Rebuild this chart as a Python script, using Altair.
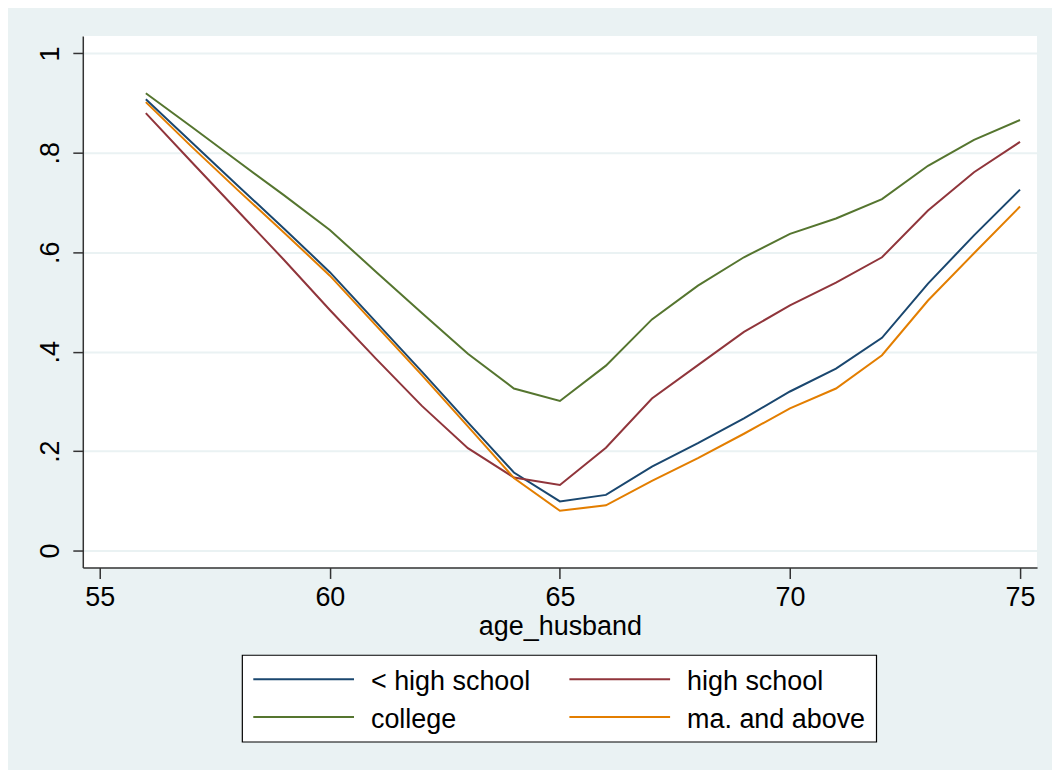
import altair as alt
import pandas as pd

ages = list(range(56, 76))
categories = ["< high school", "high school", "college", "ma. and above"]
less_hs = [0.908, 0.821, 0.734, 0.648, 0.560, 0.460, 0.360, 0.258, 0.157, 0.099,
           0.112, 0.169, 0.216, 0.266, 0.320, 0.366, 0.428, 0.537, 0.634, 0.726]
high_school = [0.880, 0.781, 0.683, 0.585, 0.484, 0.386, 0.291, 0.206, 0.147, 0.132,
               0.207, 0.306, 0.373, 0.440, 0.493, 0.539, 0.590, 0.684, 0.761, 0.822]
college = [0.920, 0.852, 0.783, 0.715, 0.645, 0.561, 0.478, 0.396, 0.326, 0.301,
           0.372, 0.465, 0.533, 0.590, 0.637, 0.668, 0.707, 0.774, 0.826, 0.866]
ma_above = [0.902, 0.812, 0.725, 0.640, 0.553, 0.453, 0.353, 0.250, 0.146, 0.080,
            0.091, 0.140, 0.186, 0.235, 0.286, 0.326, 0.393, 0.503, 0.598, 0.692]
colors = ["#1A476F", "#90353B", "#55752F", "#E37E00"]
x_ticks = [55, 60, 65, 70, 75]
y_ticks = [0, 0.2, 0.4, 0.6, 0.8, 1.0]

series = [less_hs, high_school, college, ma_above]
rows = []
for cat, vals in zip(categories, series):
    for a, v in zip(ages, vals):
        rows.append({"age_husband": a, "value": v, "group": cat})
df = pd.DataFrame(rows)

FONT = "Liberation Sans"
FS = 27
W, H = 957, 533

color_scale = alt.Scale(domain=categories, range=colors)

lines = alt.Chart(df).mark_line(strokeWidth=2, clip=False).encode(
    x=alt.X("age_husband:Q",
            scale=alt.Scale(domain=[54.63, 75.37], nice=False, zero=False),
            axis=alt.Axis(values=x_ticks, title="age_husband", grid=False,
                          labelFont=FONT, labelFontSize=FS, labelColor="#000",
                          titleFont=FONT, titleFontSize=FS, titleColor="#000",
                          titleFontWeight="normal", titleY=67,
                          titleBaseline="alphabetic",
                          tickSize=11, tickColor="#333", tickWidth=1.5,
                          domainColor="#333", domainWidth=1.5, labelPadding=6,
                          labelFlush=False)),
    y=alt.Y("value:Q",
            scale=alt.Scale(domain=[-0.034, 1.035], nice=False, zero=False),
            axis=alt.Axis(values=y_ticks, title=None, grid=True,
                          gridColor="#EAF2F3", gridWidth=2,
                          labelExpr="datum.value == 0 ? '0' : datum.value == 1 ? '1' : replace(format(datum.value, '.1f'), '0.', '.')",
                          labelAngle=-90, labelAlign="center", labelBaseline="bottom",
                          labelFont=FONT, labelFontSize=FS, labelColor="#000",
                          tickSize=10, tickColor="#333", tickWidth=1.5,
                          domainColor="#333", domainWidth=1.5, labelPadding=8,
                          labelFlush=False)),
    color=alt.Color("group:N", scale=color_scale, legend=None),
    detail="group:N",
)

# legend layout (pixels relative to plot area)
leg_cols = [0, 1, 0, 1]
leg_rows = [0, 0, 1, 1]
col_x = [171, 488]
row_y = [645, 683]
leg = pd.DataFrame({
    "group": categories,
    "x1": [col_x[c] for c in leg_cols],
    "x2": [col_x[c] + 101 for c in leg_cols],
    "tx": [col_x[c] + 118 for c in leg_cols],
    "y": [row_y[r] for r in leg_rows],
})

box = alt.Chart(leg).mark_rect(fill="white", stroke="#000", strokeWidth=1.2).encode(
    x=alt.value(160), x2=alt.value(796), y=alt.value(621), y2=alt.value(708)
).transform_filter("datum.group == '< high school'")

leg_lines = alt.Chart(leg).mark_rule(strokeWidth=2).encode(
    x=alt.X("x1:Q", scale=None, axis=None),
    x2="x2:Q",
    y=alt.Y("y:Q", scale=None, axis=None),
    color=alt.Color("group:N", scale=color_scale, legend=None),
)

leg_text = alt.Chart(leg).mark_text(align="left", baseline="middle", font=FONT,
                                     fontSize=FS, color="#000", dy=3).encode(
    x=alt.X("tx:Q", scale=None, axis=None),
    y=alt.Y("y:Q", scale=None, axis=None),
    text="group:N",
)

chart = alt.layer(lines, box, leg_lines, leg_text).properties(
    width=W, height=H,
    background="#EAF2F3",
    padding={"left": 75, "top": 27, "right": 15, "bottom": 202},
    autosize=alt.AutoSizeParams(type="none"),
).configure_view(fill="white", stroke=None)

chart.save("out.html", embed_options={"renderer": "svg", "actions": False})
